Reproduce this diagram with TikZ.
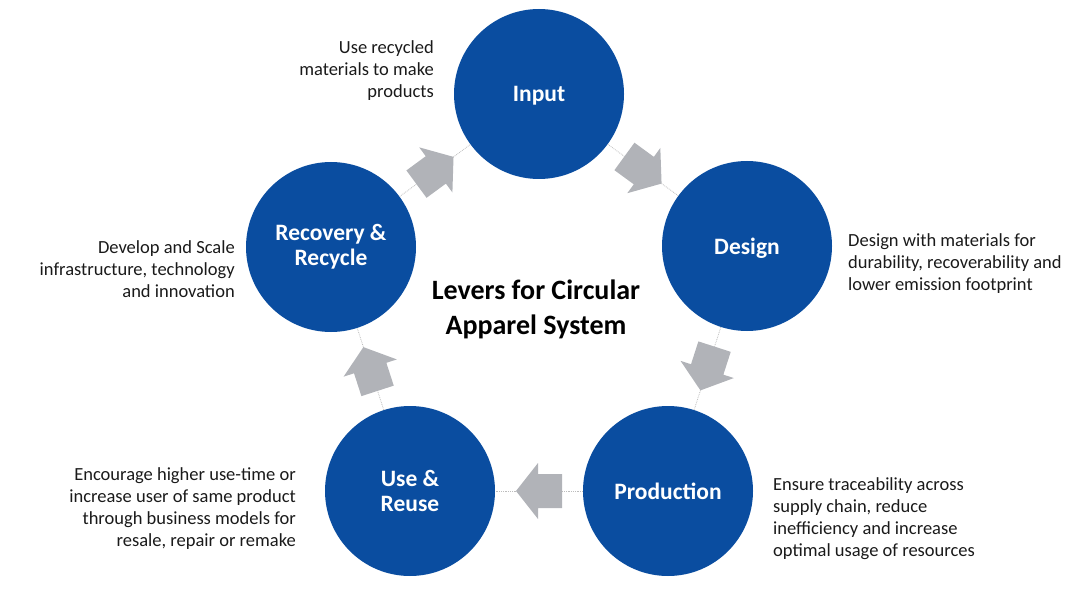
\documentclass[tikz,border=0pt]{standalone}
\usepackage{fontspec}
\setmainfont{Carlito}
\definecolor{circblue}{HTML}{0A4DA0}
\definecolor{arrgray}{HTML}{B1B3B8}
\definecolor{dotgray}{HTML}{BDBDBD}
\definecolor{txt}{HTML}{1A1A1A}
\begin{document}
\begin{tikzpicture}[x=1pt,y=-1pt,
  lever/.style={circle, fill=circblue, minimum size=170pt, inner sep=0pt, text=white,
    font=\fontsize{23.5}{25}\selectfont\bfseries, align=center},
  oneline/.style={text depth=0pt},
  desc/.style={inner sep=0pt, font=\fontsize{18.5}{22}\selectfont, text=txt},
  link/.style={draw=dotgray, densely dotted, line width=0.8pt},
  blockarr/.pic={\fill[arrgray] (23,0) -- (1,28) -- (1,17) -- (-23,17) -- (-23,-17) -- (1,-17) -- (1,-28) -- cycle;}
]
\useasboundingbox (0,0) rectangle (1074,607);
\node[lever, oneline] (input) at (539,94) {Input};
\node[lever, oneline] (design) at (747,246) {Design};
\node[lever, oneline] (production) at (668,491) {Production};
\node[lever] (use) at (410,491) {Use \&\\Reuse};
\node[lever] (recovery) at (331,247) {Recovery \&\\Recycle};

\draw[link] (input) -- (design);
\draw[link] (design) -- (production);
\draw[link] (production) -- (use);
\draw[link] (use) -- (recovery);
\draw[link] (recovery) -- (input);

\path (input) -- pic[sloped, allow upside down, pos=0.5]{blockarr} (design);
\path (design) -- pic[sloped, allow upside down, pos=0.5]{blockarr} (production);
\path (production) -- pic[sloped, allow upside down, pos=0.5]{blockarr} (use);
\path (use) -- pic[sloped, allow upside down, pos=0.5]{blockarr} (recovery);
\path (recovery) -- pic[sloped, allow upside down, pos=0.5]{blockarr} (input);

\node[inner sep=0pt, font=\fontsize{28}{35}\selectfont\bfseries, text=black, align=center] (title) at (536,309.5) {Levers for Circular\\Apparel System};

\node[desc, align=right, anchor=east] (dinput) at (434,70.5) {Use recycled\\materials to make\\products};
\node[desc, align=left, anchor=west] (ddesign) at (848,264) {Design with materials for\\durability, recoverability and\\lower emission footprint};
\node[desc, align=left, anchor=west] (dprod) at (773,519) {Ensure traceability across\\supply chain, reduce\\inefficiency and increase\\optimal usage of resources};
\node[desc, align=right, anchor=east] (duse) at (296,509) {Encourage higher use-time or\\increase user of same product\\through business models for\\resale, repair or remake};
\node[desc, align=right, anchor=east] (drec) at (235,269) {Develop and Scale\\infrastructure, technology\\and innovation};
\end{tikzpicture}
\end{document}
